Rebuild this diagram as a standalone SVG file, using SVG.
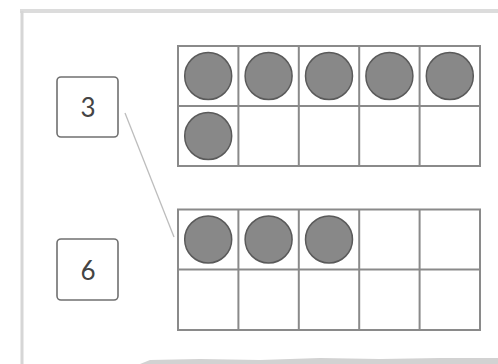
<svg xmlns="http://www.w3.org/2000/svg" width="498" height="364" viewBox="0 0 498 364">
<style>
.grid{fill:none;stroke:#8a8a8a;stroke-width:2}
.dot{fill:#888;stroke:#5a5a5a;stroke-width:1.5}
.box{fill:#fff;stroke:#707070;stroke-width:1.6}
.lbl{font-family:Lato,"Open Sans",sans-serif;font-size:26px;fill:#444;text-anchor:middle}
.conn{stroke:#bdbdbd;stroke-width:1.3;fill:none}
</style>
<rect width="498" height="364" fill="#fff"/>
<g id="frame">
<line x1="20" y1="11" x2="498" y2="11" stroke="#dcdcdc" stroke-width="4"/>
<line x1="22" y1="11" x2="22" y2="364" stroke="#d6d6d6" stroke-width="3"/>
<path d="M140 364 L150 360 L200 359 L260 360 L320 358 L380 359 L440 358 L498 358 L498 364 Z" fill="#d2d2d2"/>
</g>
<g id="connectors">
<line class="conn" x1="125" y1="113" x2="174" y2="237"/>
</g>
<g id="label3">
<rect class="box" x="57" y="77" width="61" height="60" rx="4"/>
<text class="lbl" x="88" y="117">3</text>
</g>
<g id="label6">
<rect class="box" x="57" y="239" width="61" height="61" rx="4"/>
<text class="lbl" x="88" y="280">6</text>
</g>
<g id="frame-top">
<rect class="grid" x="178" y="46" width="302" height="120"/>
<line class="grid" x1="178" y1="106" x2="480" y2="106"/>
<line class="grid" x1="238.4" y1="46" x2="238.4" y2="166"/>
<line class="grid" x1="298.8" y1="46" x2="298.8" y2="166"/>
<line class="grid" x1="359.2" y1="46" x2="359.2" y2="166"/>
<line class="grid" x1="419.6" y1="46" x2="419.6" y2="166"/>
<circle class="dot" cx="208.2" cy="76" r="23.5"/>
<circle class="dot" cx="268.6" cy="76" r="23.5"/>
<circle class="dot" cx="329" cy="76" r="23.5"/>
<circle class="dot" cx="389.4" cy="76" r="23.5"/>
<circle class="dot" cx="449.8" cy="76" r="23.5"/>
<circle class="dot" cx="208.2" cy="136" r="23.5"/>
</g>
<g id="frame-bottom">
<rect class="grid" x="178" y="209.5" width="302" height="120.5"/>
<line class="grid" x1="178" y1="269.5" x2="480" y2="269.5"/>
<line class="grid" x1="238.4" y1="209.5" x2="238.4" y2="330"/>
<line class="grid" x1="298.8" y1="209.5" x2="298.8" y2="330"/>
<line class="grid" x1="359.2" y1="209.5" x2="359.2" y2="330"/>
<line class="grid" x1="419.6" y1="209.5" x2="419.6" y2="330"/>
<circle class="dot" cx="208.2" cy="239.5" r="23.5"/>
<circle class="dot" cx="268.6" cy="239.5" r="23.5"/>
<circle class="dot" cx="329" cy="239.5" r="23.5"/>
</g>
</svg>
